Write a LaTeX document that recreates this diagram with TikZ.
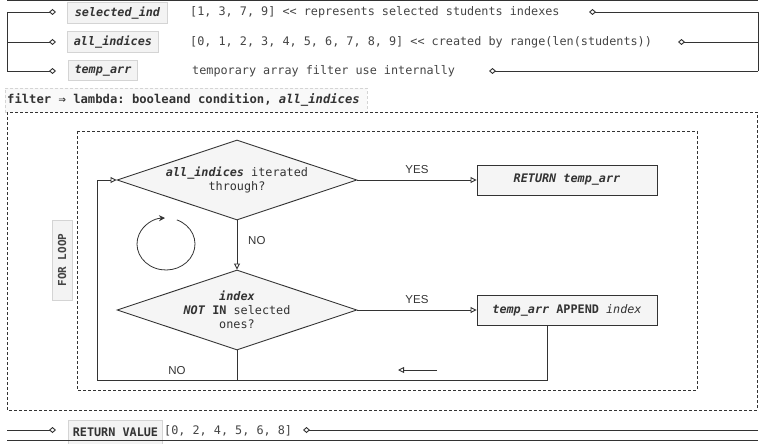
\documentclass[tikz,border=0pt]{standalone}
\usepackage{fontspec}
\setmainfont{Liberation Sans}
\setmonofont{DejaVu Sans Mono}
\usetikzlibrary{arrows.meta,shapes.geometric}
\definecolor{lc}{HTML}{333333}
\definecolor{tc}{HTML}{333333}
\definecolor{tl}{HTML}{444444}
\definecolor{shapefill}{HTML}{F5F5F5}
\definecolor{lblfill}{HTML}{F3F3F3}
\definecolor{lbldraw}{HTML}{D4D4D4}
\newcommand{\mfont}{\fontsize{11.8}{14.2}\selectfont\ttfamily}
\newcommand{\bi}[1]{\textbf{\textit{#1}}}
\tikzset{
  ln/.style={draw=lc, line width=0.9pt},
  otip/.style={-{Triangle[open,length=6pt,width=6pt]}},
  dtip/.style={-{Diamond[open,length=7pt,width=6pt]}},
  lblbox/.style={fill=lblfill, draw=lbldraw, line width=0.9pt, inner sep=0pt, anchor=north west, font=\mfont\bfseries\itshape, text=tc},
  txt/.style={inner sep=0pt, anchor=west, font=\mfont, text=tl},
  dia/.style={diamond, aspect=3, draw=lc, fill=shapefill, line width=0.9pt, minimum width=240pt, minimum height=80pt, inner sep=0pt, align=center, font=\mfont, text=tc},
  proc/.style={rectangle, draw=lc, fill=shapefill, line width=0.9pt, minimum width=180pt, minimum height=30pt, inner sep=0pt, font=\mfont, text=tc},
  yn/.style={font=\fontsize{11.5}{13}\selectfont, text=tc, inner sep=0pt},
  dbox/.style={draw=lc, line width=0.8pt, dash pattern=on 3pt off 2pt},
}
\begin{document}
\begin{tikzpicture}[x=1pt,y=-1pt]
\useasboundingbox (0,0) rectangle (766,444);

% ---- top section ----
\draw[ln] (7,0.5) -- (758,0.5);
\node[lblbox, minimum width=100pt, minimum height=21pt] (selind) at (67,2) {selected\_ind};
\node[lblbox, minimum width=91pt, minimum height=21pt] (allind) at (67,31) {all\_indices};
\node[lblbox, minimum width=69pt, minimum height=20pt] (tmparr) at (68,60) {temp\_arr};
\node[txt] (t1) at (190,12) {[1, 3, 7, 9] << represents selected students indexes};
\node[txt] (t2) at (190,42) {[0, 1, 2, 3, 4, 5, 6, 7, 8, 9] << created by range(len(students))};
\node[txt] (t3) at (192,71) {temporary array filter use internally};

\coordinate (l1) at (7,12);  \coordinate (l2) at (7,42);  \coordinate (l3) at (7,71);
\coordinate (m1) at (56,12); \coordinate (m2) at (56,42); \coordinate (m3) at (56,71);
\coordinate (r1) at (758,12); \coordinate (r2) at (758,42); \coordinate (r3) at (758,71);
\coordinate (n1) at (589,12); \coordinate (n2) at (678,42); \coordinate (n3) at (489,71);
\draw[ln] (l1) -- (l3);
\draw[ln] (r1) -- (r3);
\foreach \i in {1,2,3} {
  \draw[ln,dtip] (l\i) -- (m\i);
  \draw[ln,dtip] (r\i) -- (n\i);
}

% ---- filter container ----
\node[draw=lbldraw, fill=lblfill!50, dash pattern=on 3pt off 2pt, line width=0.8pt,
      minimum width=362pt, minimum height=24pt, anchor=north west, inner sep=0pt] (flbl) at (5,88) {};
\node[inner sep=0pt, anchor=west, font=\fontsize{12.2}{14}\selectfont\ttfamily\bfseries, text=tc] (ftxt) at (7,100)
  {filter ⇒ lambda: booleand condition, \textit{all\_indices}};
\draw[dbox] (7,112) rectangle (757,410);
\draw[dbox] (77,131) rectangle (697,390);

\node[fill=lblfill, draw=lbldraw, line width=0.9pt, rotate=90, minimum width=80pt, minimum height=20pt,
      inner sep=0pt, font=\fontsize{11}{12}\selectfont\ttfamily\bfseries, text=tl] (forloop) at (62,260) {FOR LOOP};

% ---- flow ----
\node[dia] (d1) at (237,180) {\bi{all\_indices} iterated\\through?};
\node[dia] (d2) at (237,310) {\bi{index}\\\bi{NOT} \textbf{IN} selected\\ones?};
\node[proc] (b1) at (567,180) {\bi{RETURN temp\_arr}};
\node[proc] (b2) at (567,310) {\bi{temp\_arr} \textbf{APPEND} \textit{index}};

\draw[ln,otip] (d1.east) -- node[yn, above=6pt, pos=0.5] (yes1) {YES} (b1.west);
\draw[ln,otip] (d1.south) -- (d2.north);
\node[yn, anchor=west] (no1) at (248,241) {NO};
\draw[ln,otip] (d2.east) -- node[yn, above=6pt, pos=0.5] (yes2) {YES} (b2.west);

\coordinate (lb) at (97,380);
\coordinate (b2out) at ([xshift=-20pt]b2.south);
\draw[ln,otip] (b2out) -- (b2out |- lb) -- (lb) -- (lb |- d1.west) -- (d1.west);
\draw[ln] (d2.south) -- (d2.south |- lb);
\node[yn] (no2) at (177,371) {NO};

\coordinate (sa1) at (437,370);
\coordinate (sa2) at (398,370);
\draw[ln,otip] (sa1) -- (sa2);

% cycle symbol
\draw[ln, line width=0.8pt, -{Stealth[length=6pt,width=6pt]}]
  (166,244) ++(292:29 and 26) arc[start angle=292, end angle=628, x radius=29, y radius=26];

% ---- bottom ----
\node[lblbox, font=\mfont\bfseries, minimum width=94pt, minimum height=24pt] (retval) at (68,420) {RETURN VALUE};
\node[txt] (rv) at (164,431) {[0, 2, 4, 5, 6, 8]};
\coordinate (bl) at (7,430); \coordinate (bm) at (56,430);
\coordinate (br) at (758,430); \coordinate (bn) at (303,430);
\draw[ln,dtip] (bl) -- (bm);
\draw[ln,dtip] (br) -- (bn);
\draw[ln] (7,440) -- (758,440);
\end{tikzpicture}
\end{document}
